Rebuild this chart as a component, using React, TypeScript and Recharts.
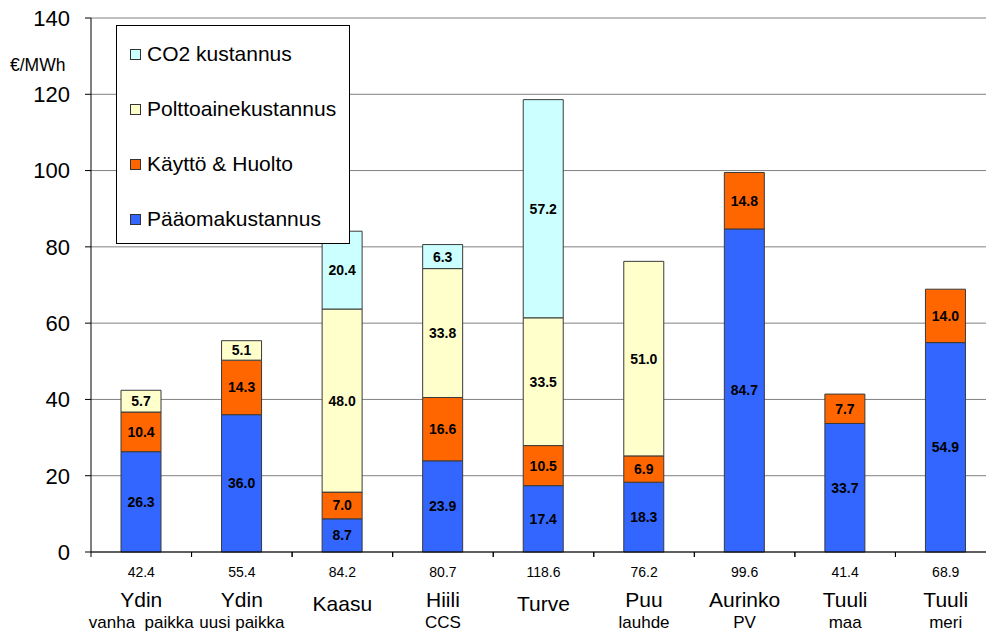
import React from 'react';
import { BarChart, Bar, XAxis, YAxis, CartesianGrid, LabelList } from 'recharts';

const categories = ['Ydin', 'Ydin', 'Kaasu', 'Hiili', 'Turve', 'Puu', 'Aurinko', 'Tuuli', 'Tuuli'];
const subLabels = ['vanha  paikka', 'uusi paikka', '', 'CCS', '', 'lauhde', 'PV', 'maa', 'meri'];
const totals = ['42.4', '55.4', '84.2', '80.7', '118.6', '76.2', '99.6', '41.4', '68.9'];
const paaoma = [26.3, 36.0, 8.7, 23.9, 17.4, 18.3, 84.7, 33.7, 54.9];
const kaytto = [10.4, 14.3, 7.0, 16.6, 10.5, 6.9, 14.8, 7.7, 14.0];
const polttoaine = [5.7, 5.1, 48.0, 33.8, 33.5, 51.0, 0, 0, 0];
const co2 = [0, 0, 20.4, 6.3, 57.2, 0, 0, 0, 0];
const yTicks = [0, 20, 40, 60, 80, 100, 120, 140];

const series = [
  { key: 'paaoma', name: 'Pääomakustannus', color: '#3366FF' },
  { key: 'kaytto', name: 'Käyttö & Huolto', color: '#FF6600' },
  { key: 'polttoaine', name: 'Polttoainekustannus', color: '#FFFFCC' },
  { key: 'co2', name: 'CO2 kustannus', color: '#CCFFFF' },
];

const data = categories.map((c, i) => ({
  idx: i,
  name: c,
  paaoma: paaoma[i],
  kaytto: kaytto[i],
  polttoaine: polttoaine[i],
  co2: co2[i],
}));

const FONT = '"Liberation Sans", Arial, sans-serif';

const CatTick = (props: any) => {
  const { x, y, payload } = props;
  const i = payload.value as number;
  const sub = subLabels[i];
  const half = Number(payload.offset) || 0;
  return (
    <g>
      {half > 0 ? (
        <g>
          <line x1={x - half} x2={x - half} y1={y} y2={y + 5} stroke="#000" strokeWidth={1} />
          <line x1={x + half} x2={x + half} y1={y} y2={y + 5} stroke="#000" strokeWidth={1} />
        </g>
      ) : null}
      <text x={x} y={y + 25} textAnchor="middle" fontSize={14} fill="#000" fontFamily={FONT}>
        {totals[i]}
      </text>
      <text x={x} y={y + (sub ? 55 : 59)} textAnchor="middle" fontSize={21} fill="#000" fontFamily={FONT}>
        {categories[i]}
      </text>
      {sub ? (
        <text x={x} y={y + 76} textAnchor="middle" fontSize={17} fill="#000" fontFamily={FONT} style={{ whiteSpace: 'pre' }}>
          {sub}
        </text>
      ) : null}
    </g>
  );
};

const fmt = (v: any) => (v && Number(v) > 0 ? Number(v).toFixed(1) : '');

export default function App() {
  return (
    <div style={{ position: 'absolute', left: 0, top: 0, width: 986, height: 637, overflow: 'hidden', background: '#fff' }}>
      <BarChart
        width={1000}
        height={637}
        data={data}
        margin={{ top: 18, right: 4, bottom: 0, left: 0 }}
        barCategoryGap={0}
      >
        <CartesianGrid horizontal vertical={false} stroke="#808080" strokeWidth={1} />
        <XAxis
          dataKey="idx"
          type="category"
          height={85}
          interval={0}
          axisLine={{ stroke: '#000' }}
          tickLine={false}
          tickSize={0}
          tickMargin={0}
          tick={<CatTick />}
        />
        <YAxis
          domain={[0, 140]}
          ticks={yTicks}
          interval={0}
          width={91}
          axisLine={{ stroke: '#000' }}
          tickLine={{ stroke: '#000' }}
          tickSize={6}
          tickMargin={15}
          tick={{ fontSize: 22, fill: '#000', fontFamily: FONT }}
        />
        {series.map((s) => (
          <Bar
            key={s.key}
            dataKey={s.key}
            name={s.name}
            stackId="a"
            fill={s.color}
            stroke="#3a3a3a"
            strokeWidth={1}
            barSize={40}
            isAnimationActive={false}
          >
            <LabelList
              dataKey={s.key}
              position="center"
              formatter={fmt}
              style={{ fontSize: 14, fontWeight: 'bold', fill: '#000', fontFamily: FONT }}
            />
          </Bar>
        ))}
      </BarChart>
      <div style={{ position: 'absolute', left: 10, top: 57, fontSize: 17.5, lineHeight: '17.5px', fontFamily: FONT, color: '#000' }}>€/MWh</div>
      <div
        style={{
          position: 'absolute',
          left: 116,
          top: 25,
          width: 234,
          height: 219,
          boxSizing: 'border-box',
          border: '1px solid #000',
          background: '#fff',
          fontFamily: FONT,
        }}
      >
        {[...series].reverse().map((s, i) => (
          <div
            key={s.key}
            style={{ position: 'absolute', left: 13, top: 16 + i * 55, height: 24, display: 'flex', alignItems: 'center' }}
          >
            <div style={{ width: 9, height: 9, background: s.color, border: '1px solid #333', marginRight: 6 }} />
            <span style={{ fontSize: 21, color: '#000', lineHeight: '24px', whiteSpace: 'nowrap' }}>{s.name}</span>
          </div>
        ))}
      </div>
    </div>
  );
}
